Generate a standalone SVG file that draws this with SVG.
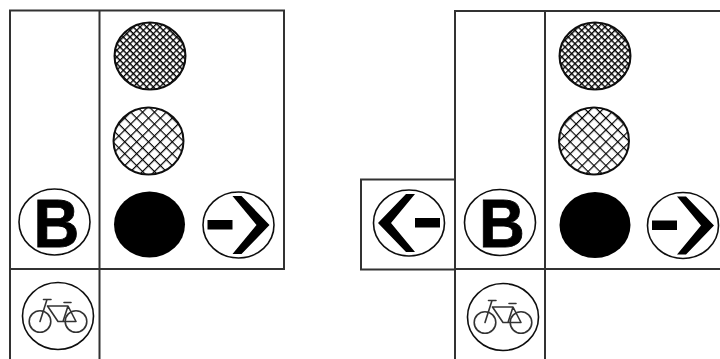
<svg xmlns="http://www.w3.org/2000/svg" width="720" height="359" viewBox="0 0 720 359">
  <style>
    .line { fill: none; stroke: #333; stroke-width: 2; }
    .ring { fill: #fff; stroke: #111; stroke-width: 1.6; }
    .solid { fill: #000; }
    .bk { fill: none; stroke: #333; stroke-width: 1.6; stroke-linecap: round; stroke-linejoin: round; }
    .bb { font-family: "Liberation Sans", Arial, sans-serif; font-weight: 700; font-size: 69px; text-anchor: middle; fill: #000; stroke: #000; stroke-width: 0.8; }
  </style>
  <defs>
    <filter id="soft" x="-5%" y="-5%" width="110%" height="110%"><feGaussianBlur stdDeviation="0.5"/></filter>
    <pattern id="dense" width="4.7" height="4.7" patternUnits="userSpaceOnUse" patternTransform="rotate(45)">
      <rect width="4.7" height="4.7" fill="#fff"/>
      <path d="M0 0H4.7M0 0V4.7" stroke="#000" stroke-width="2.6"/>
    </pattern>
    <pattern id="wide" width="8.4" height="8.4" patternUnits="userSpaceOnUse" patternTransform="rotate(45)">
      <rect width="8.4" height="8.4" fill="#fff"/>
      <path d="M0 0H8.4M0 0V8.4" stroke="#000" stroke-width="2.4"/>
    </pattern>
    <g id="dark"><ellipse rx="35.5" ry="33.5" fill="url(#dense)" stroke="#111" stroke-width="2"/></g>
    <g id="light"><ellipse rx="35" ry="33.5" fill="url(#wide)" stroke="#111" stroke-width="2"/></g>
    <g id="black"><ellipse rx="35.5" ry="33" class="solid"/></g>
    <g id="arrow">
      <ellipse rx="35.5" ry="33" class="ring"/>
      <polygon class="solid" points="-6,-29 3,-29 31,0 3,29 -6,29 18,0"/>
      <rect x="-31" y="-5" width="25" height="9.5" class="solid"/>
    </g>
    <g id="bus">
      <ellipse rx="35.5" ry="33" class="ring"/>
      <text class="bb" transform="translate(2,24.5) scale(0.92,1)">B</text>
    </g>
    <g id="bike">
      <ellipse rx="35.5" ry="33.5" class="ring"/>
      <circle cx="-18" cy="5.5" r="10.8" class="bk"/>
      <circle cx="18" cy="5.5" r="10.8" class="bk"/>
      <path class="bk" d="M-18 5.5L-11 -16.5H-14.5M-11 -16.5H-7M-10 -10H10L18 5.5M-10.5 -10L0 5.5H18L10 -10L5 5.5M6 -13.5H13"/>
    </g>
  </defs>
  <rect width="720" height="359" fill="#fff"/>
  <g filter="url(#soft)">
    <g id="connectors">
      <path class="line" d="M10 359V10.5H284V269H10M99.5 10.5V359"/>
      <path class="line" d="M720 11H455V359M545 11V359M455 269H720M455 179.5H361V269.5H455"/>
    </g>
    <g id="left-red"><use href="#dark" x="150" y="56"/></g>
    <g id="left-yellow"><use href="#light" x="148.5" y="141"/></g>
    <g id="left-green"><use href="#black" x="149.5" y="224.5"/></g>
    <g id="left-bus"><use href="#bus" x="54.5" y="222"/></g>
    <g id="left-arrow"><use href="#arrow" x="238.5" y="225"/></g>
    <g id="left-bike"><use href="#bike" x="58" y="316"/></g>
    <g id="right-red"><use href="#dark" x="595" y="56"/></g>
    <g id="right-yellow"><use href="#light" x="594" y="141"/></g>
    <g id="right-green"><use href="#black" x="595" y="225"/></g>
    <g id="right-bus"><use href="#bus" x="500" y="222.5"/></g>
    <g id="right-arrow"><use href="#arrow" x="683" y="225.5"/></g>
    <g id="right-left-arrow"><use href="#arrow" transform="translate(409,223) scale(-1,1)"/></g>
    <g id="right-bike"><use href="#bike" x="503" y="317"/></g>
  </g>
</svg>
